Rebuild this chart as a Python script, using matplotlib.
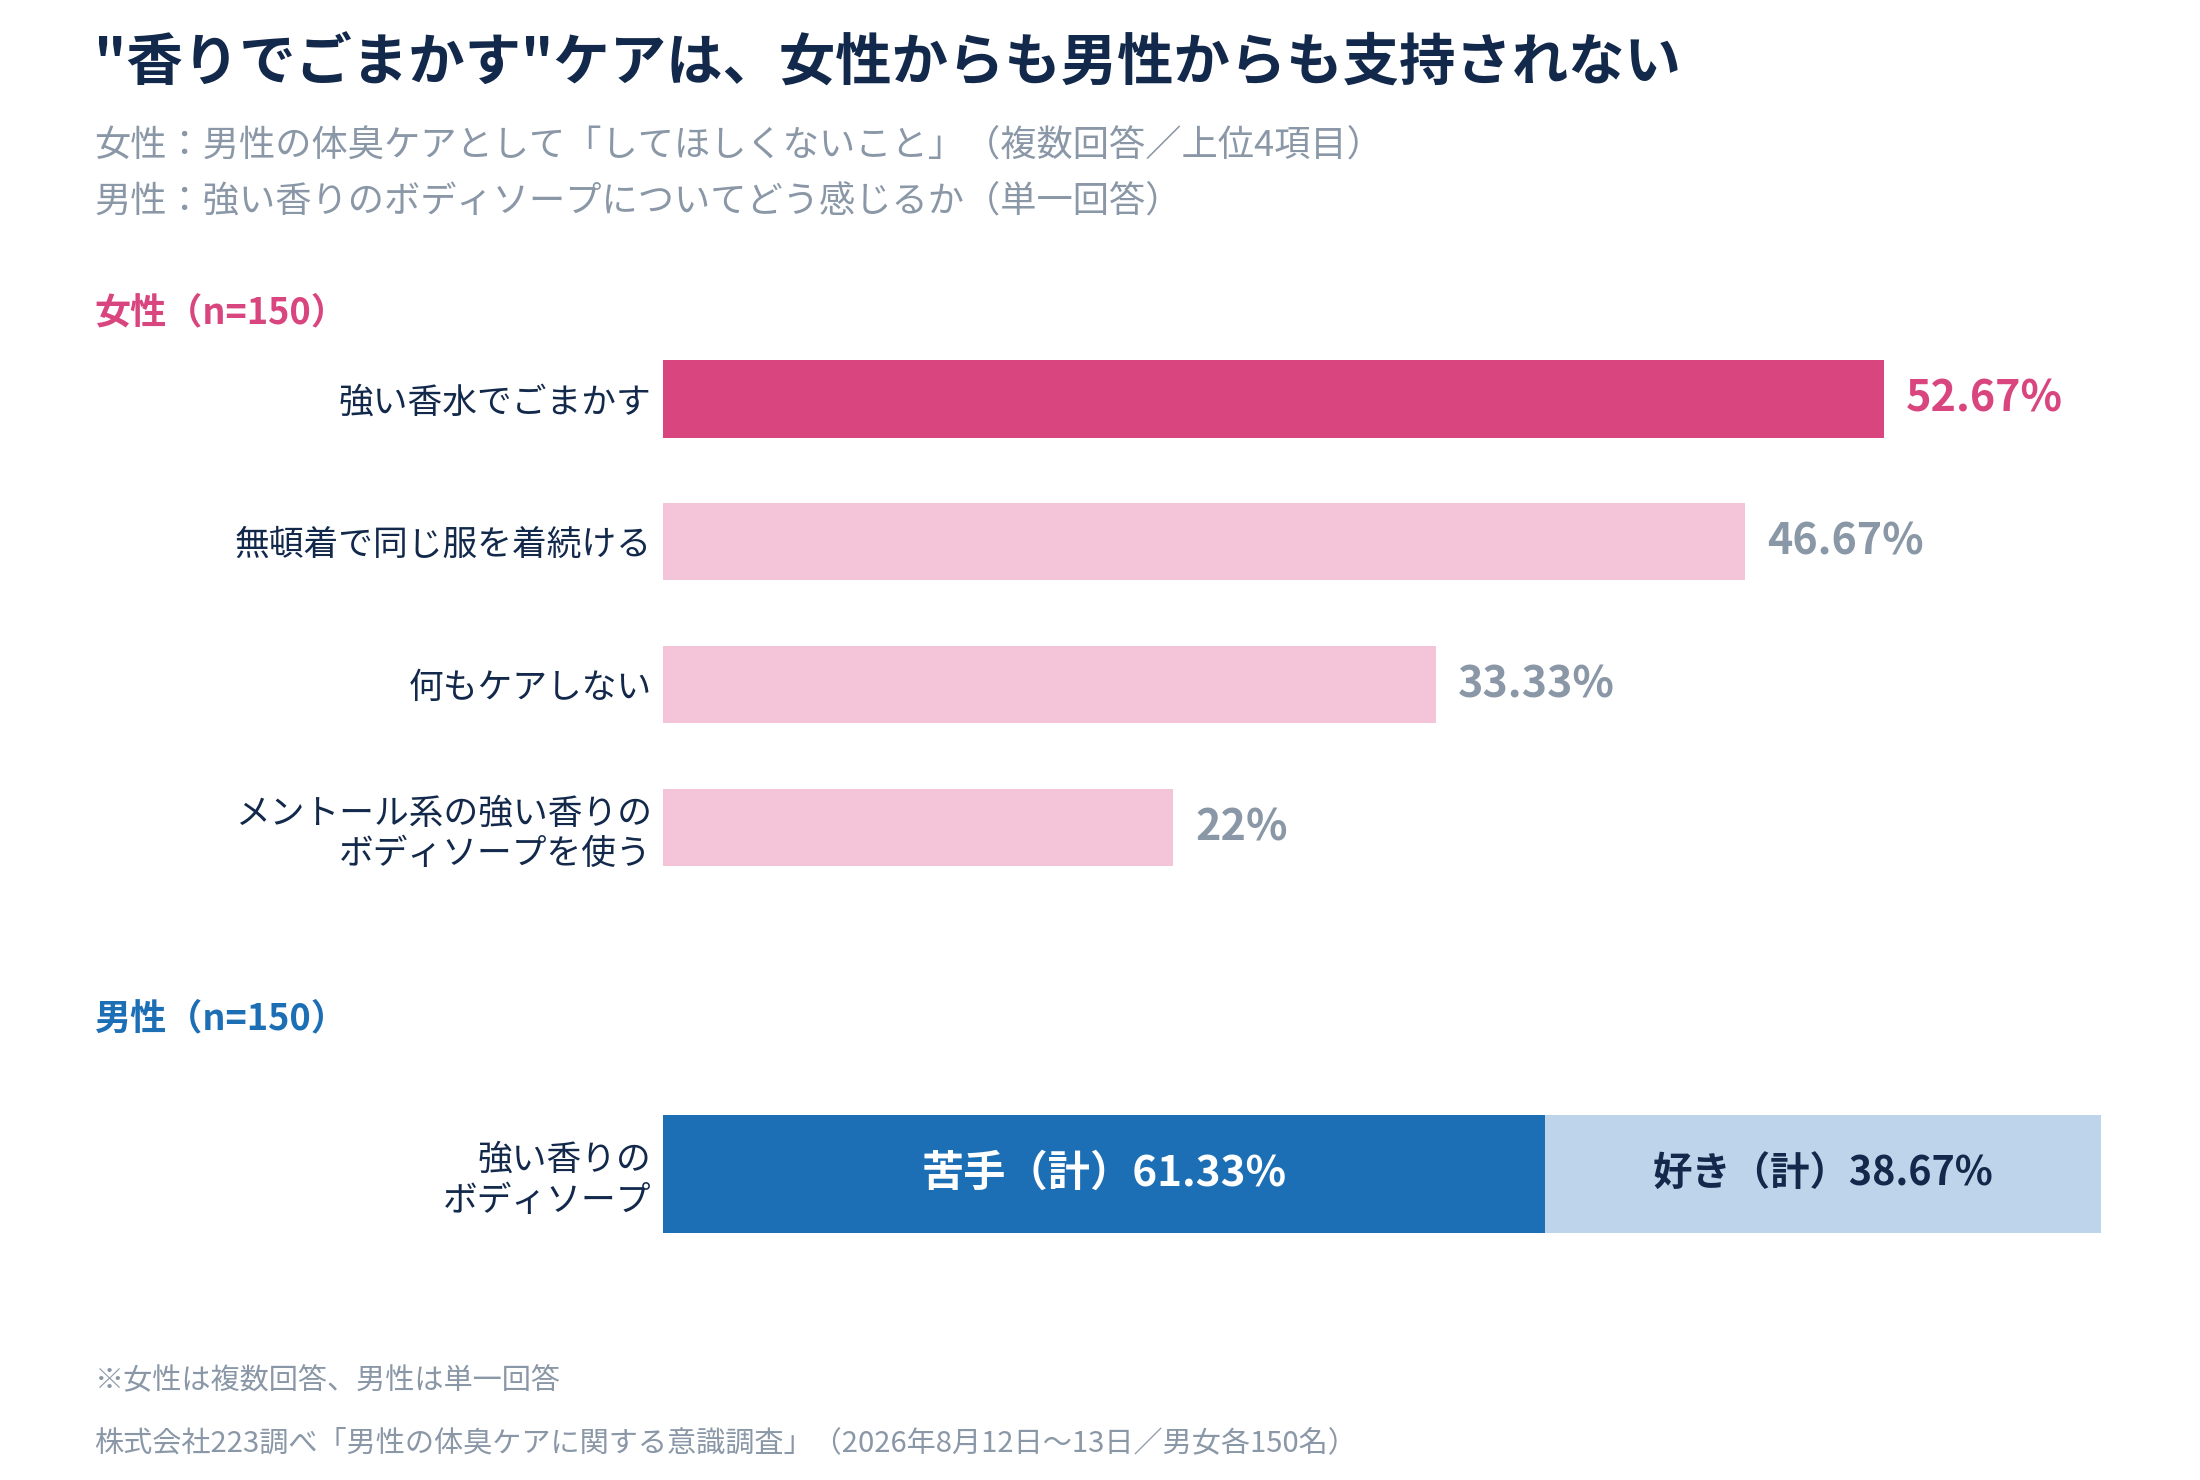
import matplotlib.pyplot as plt


plt.rcParams["font.family"] = ["Noto Sans CJK JP", "DejaVu Sans"]

TITLE = "\"香りでごまかす\"ケアは、女性からも男性からも支持されない"
SUBTITLE_LINES = [
    "女性：男性の体臭ケアとして「してほしくないこと」（複数回答／上位4項目）",
    "男性：強い香りのボディソープについてどう感じるか（単一回答）",
]
FOOTNOTES = [
    "※女性は複数回答、男性は単一回答",
    "株式会社223調べ「男性の体臭ケアに関する意識調査」（2026年8月12日〜13日／男女各150名）",
]

FEMALE_HEADER = "女性（n=150）"
FEMALE_LABELS = [
    "強い香水でごまかす",
    "無頓着で同じ服を着続ける",
    "何もケアしない",
    "メントール系の強い香りの\nボディソープを使う",
]
FEMALE_VALUES = [52.67, 46.67, 33.33, 22.0]
FEMALE_VALUE_TEXT = ["52.67%", "46.67%", "33.33%", "22%"]

MALE_HEADER = "男性（n=150）"
MALE_LABEL = "強い香りの\nボディソープ"
MALE_SEGMENTS = ["苦手（計）", "好き（計）"]
MALE_VALUES = [61.33, 38.67]

NAVY = "#13294b"
GRAY = "#8a97a6"
PINK = "#d9457e"
PINK_LIGHT = "#f4c5d9"
BLUE = "#1c6fb5"
BLUE_LIGHT = "#bdd4ea"

W, H = 1560, 1050  # layout grid used for placing things


def fx(x):
    return x / W


def fy(y):
    return 1 - y / H


def main():
    fig = plt.figure(figsize=(11, 7.4), dpi=200)
    fig.patch.set_facecolor("white")

    fig.text(fx(67), fy(46), TITLE, fontsize=20.3, fontweight="bold",
             color=NAVY, va="center", ha="left")
    for i, line in enumerate(SUBTITLE_LINES):
        fig.text(fx(67), fy(103 + 40 * i), line, fontsize=13.05,
                 color=GRAY, va="center", ha="left")

    fig.text(fx(67), fy(222), FEMALE_HEADER, fontsize=13,
             fontweight="bold", color=PINK, va="center", ha="left")
    fig.text(fx(67), fy(723), MALE_HEADER, fontsize=13,
             fontweight="bold", color=BLUE, va="center", ha="left")

    # female bars
    ax = fig.add_axes([fx(470), fy(637.6), fx(1020), 405.2 / H])
    ypos = list(range(len(FEMALE_VALUES)))
    colors = [PINK] + [PINK_LIGHT] * (len(FEMALE_VALUES) - 1)
    ax.barh(ypos, FEMALE_VALUES, height=0.54, color=colors)
    ax.set_xlim(0, 62.04)
    ax.set_ylim(len(FEMALE_VALUES) - 0.5, -0.5)
    ax.set_yticks(ypos)
    ax.set_yticklabels(FEMALE_LABELS, fontsize=12.5, color=NAVY)
    ax.tick_params(axis="y", length=0, pad=4)
    ax.set_xticks([])
    for spine in ax.spines.values():
        spine.set_visible(False)
    for i, (v, txt) in enumerate(zip(FEMALE_VALUES, FEMALE_VALUE_TEXT)):
        ax.annotate(txt, xy=(v, i), xytext=(8, 0), textcoords="offset points",
                    va="center", ha="left", fontsize=15.5, fontweight="bold",
                    color=PINK if i == 0 else GRAY)

    # male stacked bar
    ax2 = fig.add_axes([fx(470), fy(875), fx(1020), 84 / H])
    left = 0
    seg_colors = [BLUE, BLUE_LIGHT]
    text_colors = ["white", NAVY]
    text_sizes = [15.2, 14.2]
    for name, v, c, tc, fs in zip(MALE_SEGMENTS, MALE_VALUES, seg_colors,
                                  text_colors, text_sizes):
        ax2.barh([0], [v], left=left, height=1.0, color=c)
        ax2.text(left + v / 2, 0, f"{name}{v:.2f}%", ha="center", va="center",
                 fontsize=fs, fontweight="bold", color=tc)
        left += v
    ax2.set_xlim(0, 100)
    ax2.set_ylim(-0.5, 0.5)
    ax2.set_yticks([0])
    ax2.set_yticklabels([MALE_LABEL], fontsize=12.5, color=NAVY)
    ax2.tick_params(axis="y", length=0, pad=4)
    ax2.set_xticks([])
    for spine in ax2.spines.values():
        spine.set_visible(False)

    for i, line in enumerate(FOOTNOTES):
        fig.text(fx(67), fy(980 + 44 * i), line, fontsize=10.5,
                 color=GRAY, va="center", ha="left")

    fig.savefig("out.png", dpi=200, facecolor="white")
    plt.close(fig)


if __name__ == "__main__":
    main()
